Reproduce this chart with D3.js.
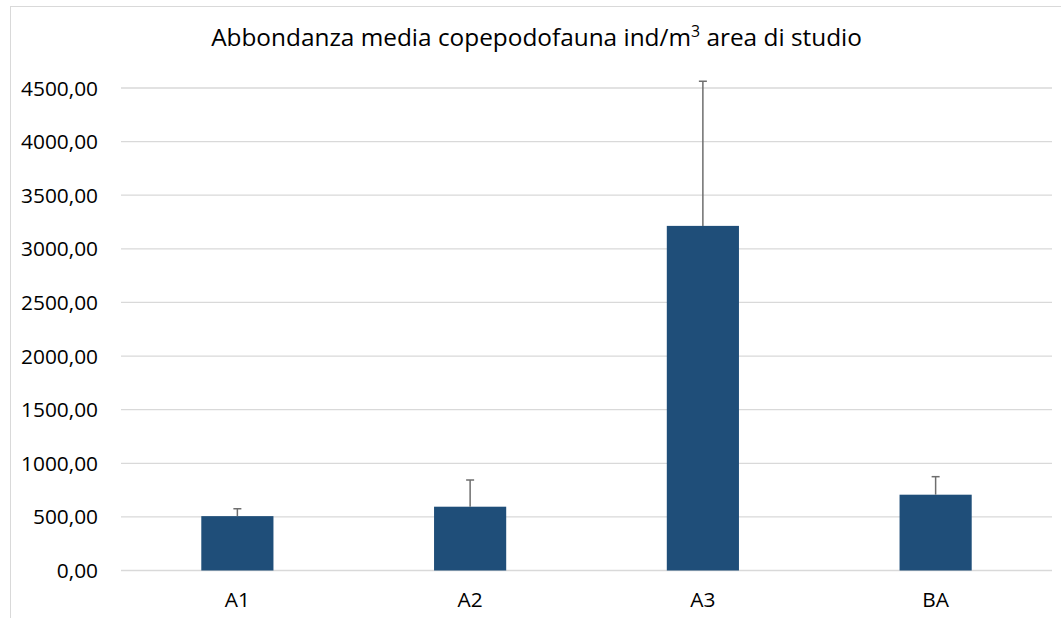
<!DOCTYPE html>
<html>
<head>
<meta charset="utf-8">
<script src="https://cdn.jsdelivr.net/npm/d3@7"></script>
<style>
  html, body { margin: 0; padding: 0; background: #fff; }
  svg { display: block; }
</style>
</head>
<body>
<svg id="chart" width="1061" height="618"></svg>
<script>
const categories = ["A1", "A2", "A3", "BA"];
const means = [507, 595, 3214, 707];
const errors = [69, 249, 1349, 168];
const yTicks = [0, 500, 1000, 1500, 2000, 2500, 3000, 3500, 4000, 4500];
const titleMain = "Abbondanza media copepodofauna ind/m";
const titleSup = "3";
const titleEnd = " area di studio";

const svg = d3.select("#chart");
const W = 1061, H = 618;
const plot = { left: 121, right: 1052, top: 88, bottom: 570.5 };
const FONT = "Open Sans, Noto Sans, DejaVu Sans, sans-serif";

// outer chart border (partially visible)
svg.append("rect").attr("x", 10.5).attr("y", 6.5).attr("width", W + 20).attr("height", H + 20)
  .attr("fill", "#fff").attr("stroke", "#d9d9d9").attr("stroke-width", 1);

const x = d3.scaleBand().domain(categories).range([plot.left, plot.right]).padding(0);
const y = d3.scaleLinear().domain([0, 4500]).range([plot.bottom, plot.top]);

// gridlines
svg.append("g").selectAll("line").data(yTicks).join("line")
  .attr("x1", plot.left).attr("x2", plot.right)
  .attr("y1", d => y(d)).attr("y2", d => y(d))
  .attr("stroke", "#d9d9d9").attr("stroke-width", 1.3);

// y tick labels
const fmt = v => d3.format(".2f")(v).replace(".", ",");
const yl = svg.append("g").selectAll("text").data(yTicks).join("text")
  .attr("x", 98).attr("y", d => y(d)).attr("dy", "0.36em")
  .attr("text-anchor", "end").attr("font-family", FONT).attr("font-size", 18)
  .attr("fill", "#000").text(fmt);
// fit to reference width of "4500,00" (~77px)
const refNode = yl.filter(d => d === 4500).node();
const tickSize = 18 * 77 / refNode.getComputedTextLength();
yl.attr("font-size", tickSize);

// bars
const barW = x.bandwidth() * 0.31;
svg.append("g").selectAll("rect").data(categories).join("rect")
  .attr("x", d => x(d) + x.bandwidth() / 2 - barW / 2)
  .attr("width", barW)
  .attr("y", (d, i) => y(means[i]))
  .attr("height", (d, i) => y(0) - y(means[i]))
  .attr("fill", "#1f4e79");

// error bars (upper only)
const eb = svg.append("g").attr("stroke", "#6e6e6e").attr("stroke-width", 1.5);
categories.forEach((c, i) => {
  const cx = x(c) + x.bandwidth() / 2;
  eb.append("line").attr("x1", cx).attr("x2", cx)
    .attr("y1", y(means[i])).attr("y2", y(means[i] + errors[i]));
  eb.append("line").attr("x1", cx - 4).attr("x2", cx + 4)
    .attr("y1", y(means[i] + errors[i])).attr("y2", y(means[i] + errors[i]));
});

// category labels
svg.append("g").selectAll("text").data(categories).join("text")
  .attr("x", d => x(d) + x.bandwidth() / 2).attr("y", 607)
  .attr("text-anchor", "middle").attr("font-family", FONT).attr("font-size", tickSize)
  .attr("fill", "#000").text(d => d);

// title
const title = svg.append("text").attr("x", (W) / 2 + 6).attr("y", 46)
  .attr("text-anchor", "middle").attr("font-family", FONT).attr("font-size", 24).attr("fill", "#000");
title.append("tspan").text(titleMain);
const sup = title.append("tspan").attr("font-size", "0.65em").attr("dy", "-0.55em").text(titleSup);
title.append("tspan").attr("dy", "0.36em").text(titleEnd);
const tw = title.node().getComputedTextLength();
title.attr("font-size", 24 * 651 / tw);
</script>
</body>
</html>
